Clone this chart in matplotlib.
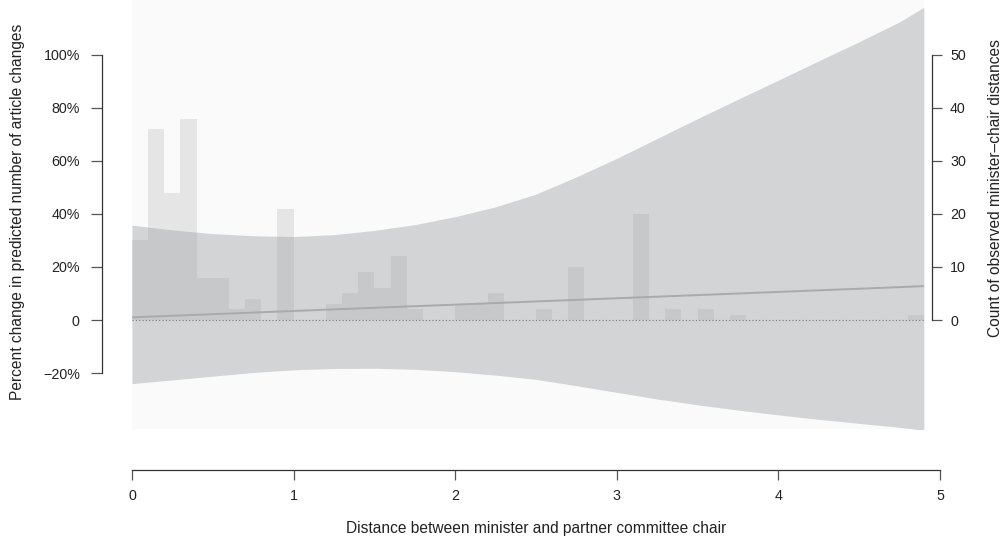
import matplotlib
matplotlib.use("Agg")
import matplotlib.pyplot as plt

plt.rcParams['font.family'] = ['Liberation Sans', 'DejaVu Sans']

# predicted percent change
dist = [0.0, 0.25, 0.5, 0.75, 1.0, 1.25, 1.5, 1.75, 2.0, 2.25, 2.5, 2.75,
        3.0, 3.25, 3.5, 3.75, 4.0, 4.25, 4.5, 4.75, 4.9]
center = [1.0, 1.6, 2.2, 2.8, 3.4, 4.0, 4.6, 5.2, 5.8, 6.4, 7.0, 7.6,
          8.2, 8.8, 9.4, 10.0, 10.6, 11.2, 11.8, 12.4, 12.8]
upper = [35.8, 34.0, 32.6, 31.8, 31.5, 32.2, 33.8, 36.0, 39.0, 42.7, 47.5, 54.0,
         61.0, 68.5, 76.0, 83.3, 90.5, 97.8, 105.0, 112.5, 118.0]
lower = [-24.0, -22.6, -21.2, -19.8, -18.8, -18.3, -18.2, -18.6, -19.5, -20.8, -22.4, -24.8,
         -27.3, -29.8, -32.0, -34.0, -35.8, -37.5, -39.0, -40.5, -41.6]

# histogram of observed distances (bins of width 0.1)
bin_left = [0.0, 0.1, 0.2, 0.3, 0.4, 0.5, 0.6, 0.7, 0.9, 1.2, 1.3, 1.4, 1.5, 1.6, 1.7,
            2.0, 2.1, 2.2, 2.5, 2.7, 3.1, 3.3, 3.5, 3.7, 4.8]
counts = [15, 36, 24, 38, 8, 8, 2, 4, 21, 3, 5, 9, 6, 12, 2,
          3, 3, 5, 2, 10, 20, 2, 2, 1, 1]

pct_ticks = [-20, 0, 20, 40, 60, 80, 100]
pct_labels = ['\u221220%', '0', '20%', '40%', '60%', '80%', '100%']
count_ticks = [0, 10, 20, 30, 40, 50]
x_ticks = [0, 1, 2, 3, 4, 5]

W, H = 1007, 545
fig = plt.figure(figsize=(W / 100, H / 100), dpi=100)
ax = fig.add_axes([132 / W, (H - 429) / H, (940 - 132) / W, 429 / H])
ax.set_xlim(0, 5)
ylo, yhi = -41.13, 120.75
ax.set_ylim(ylo, yhi)
ax.patch.set_visible(False)

ax.axvspan(0, 4.9, color='#fafafa', lw=0, zorder=0)
ax.fill_between(dist, lower, upper, color='#d3d4d6', lw=0, zorder=1)

ax2 = ax.twinx()
ax2.set_ylim(ylo / 2, yhi / 2)
ax2.bar(bin_left, counts, width=0.1, align='edge', color='#a3a3a3', alpha=0.23, lw=0)
ax2.plot(dist, center, color='#a9aaac', lw=1.4, transform=ax.transData, solid_capstyle='butt')
ax2.hlines(0, 0, 4.9, colors='#777777', linestyles=(0, (1, 2)), lw=0.8)
ax2.set_ylim(ylo / 2, yhi / 2)
ax2.set_xlim(0, 5)

spine_c = '#333333'
for s in ['top', 'right']:
    ax.spines[s].set_visible(False)
ax.spines['left'].set_position(('outward', 30 * 0.72))
ax.spines['left'].set_bounds(-20, 100)
ax.spines['bottom'].set_position(('outward', 41 * 0.72))
ax.spines['bottom'].set_bounds(0, 5)
for s in ['left', 'bottom']:
    ax.spines[s].set_color(spine_c)
    ax.spines[s].set_linewidth(0.9)

for s in ['top', 'left', 'bottom']:
    ax2.spines[s].set_visible(False)
ax2.spines['right'].set_position(('axes', 800 / 808))
ax2.spines['right'].set_bounds(0, 50)
ax2.spines['right'].set_color(spine_c)
ax2.spines['right'].set_linewidth(0.9)

ax.set_yticks(pct_ticks)
ax.set_yticklabels(pct_labels)
ax.set_xticks(x_ticks)
ax.set_xticklabels([str(t) for t in x_ticks])
ax2.set_yticks(count_ticks)
ax2.set_yticklabels([str(t) for t in count_ticks])

ax.tick_params(axis='y', length=8, width=0.9, color='#555555', pad=8, labelsize=10.3, labelcolor='#222222')
ax.tick_params(axis='x', length=7, width=0.9, color='#555555', pad=7, labelsize=10.3, labelcolor='#222222')
ax2.tick_params(axis='y', length=7, width=0.9, color='#555555', pad=6, labelsize=10.3, labelcolor='#222222')

lab_size = 11.2
fig.text(18 / W, 1 - 212 / H, 'Percent change in predicted number of article changes',
         rotation=90, ha='center', va='center', fontsize=lab_size, color='#222222')
fig.text(995 / W, 1 - 188 / H, 'Count of observed minister\u2013chair distances',
         rotation=90, ha='center', va='center', fontsize=lab_size, color='#222222')
fig.text(536 / W, 1 - 528 / H, 'Distance between minister and partner committee chair',
         ha='center', va='center', fontsize=lab_size, color='#222222')

fig.savefig('out.png', dpi=100, facecolor='white')
